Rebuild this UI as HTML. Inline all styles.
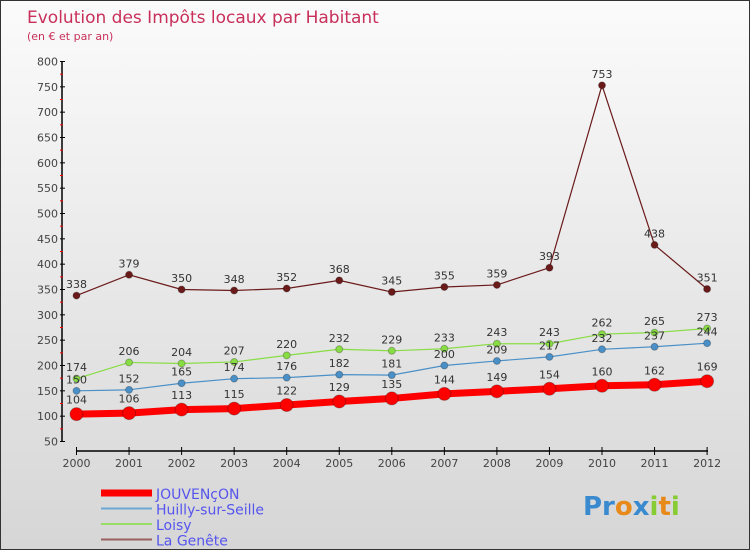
<!DOCTYPE html>
<html><head><meta charset="utf-8"><style>
body{margin:0;}
#c{width:748px;height:548px;border:1px solid #333;background:linear-gradient(#fbfbfb,#d6d6d6);position:relative;font-family:"DejaVu Sans","Liberation Sans",sans-serif;}
svg{position:absolute;left:0;top:0;}
</style></head><body>
<div id="c">
<svg id="s" width="750" height="550"></svg>
</div>
<script>
const years=["2000","2001","2002","2003","2004","2005","2006","2007","2008","2009","2010","2011","2012"];
const jouvencon=[104,106,113,115,122,129,135,144,149,154,160,162,169];
const huilly=[150,152,165,174,176,182,181,200,209,217,232,237,244];
const loisy=[174,206,204,207,220,232,229,233,243,243,262,265,273];
const genete=[338,379,350,348,352,368,345,355,359,393,753,438,351];
const yTicks=[50,100,150,200,250,300,350,400,450,500,550,600,650,700,750,800];
const NS="http://www.w3.org/2000/svg";
const s=document.getElementById('s');
const X=i=>75.5+i*52.55;
const Y=v=>440.5-(v-50)*(380/750);
function el(t,a,p){const e=document.createElementNS(NS,t);for(const k in a)e.setAttribute(k,a[k]);(p||s).appendChild(e);return e;}
let t=el('text',{x:26,y:22,fill:'#c8305a','font-size':17});t.textContent='Evolution des Impôts locaux par Habitant';

t=el('text',{x:26,y:39,fill:'#c8305a','font-size':11});t.textContent='(en € et par an)';

let a=el('line',{x1:61,y1:60,x2:61,y2:441,stroke:'#000','stroke-width':1.5});

a=el('line',{x1:75,y1:450,x2:707,y2:450,stroke:'#000','stroke-width':1.5});

yTicks.forEach((v,i)=>{el('line',{x1:59,y1:Y(v),x2:64,y2:Y(v),stroke:'#000'});
 if(i<yTicks.length-1)el('line',{x1:59,y1:Y(v+25),x2:62,y2:Y(v+25),stroke:'red'});
 const tt=el('text',{x:57,y:Y(v)+4,'text-anchor':'end','font-size':11,fill:'#444'});tt.textContent=v;
 });
years.forEach((y,i)=>{el('line',{x1:X(i),y1:446,x2:X(i),y2:454,stroke:'#000'});
 const tt=el('text',{x:X(i),y:466,'text-anchor':'middle','font-size':11,fill:'#444'});tt.textContent=y;
 });
function series(d,col,w,r,name){
 const g=el('g',{});
 el('polyline',{points:d.map((v,i)=>X(i)+','+Y(v)).join(' '),fill:'none',stroke:col,'stroke-width':w},g);
 d.forEach((v,i)=>{const c=el('circle',{cx:X(i),cy:Y(v),r:r,fill:col,stroke:'rgba(0,0,0,0.25)'},g);
  
  const l=el('text',{x:X(i),y:Y(v)-(r+4),'text-anchor':'middle','font-size':11,fill:'#333'},g);l.textContent=v;
  });
}
series(genete,'#6b1a1a',1.2,3.5,'la-genete');
series(loisy,'#88dd44',1.2,3.5,'loisy');
series(huilly,'#4a90c8',1.2,3.5,'huilly');
series(jouvencon,'#ff0000',7,6.5,'jouvencon');
const legN=['JOUVENçON','Huilly-sur-Seille','Loisy','La Genête'];
const legC=['#ff0000','#6ba8d6','#99dd66','#9a6060'];
const legW=[7,2,2,2];
legN.forEach((n,i)=>{const y=492+i*15.5;
 const ln=el('line',{x1:100,y1:y,x2:151,y2:y,stroke:legC[i],'stroke-width':legW[i]});
 
 const tt=el('text',{x:155,y:y+6,'font-size':14,fill:'#5555ee'});tt.textContent=n;
 });
const lg=el('text',{x:582,y:514,'font-size':26,'font-weight':'bold',fill:'#e88a1a'});

lg.innerHTML='<tspan fill="#3a8ad0">Pr</tspan><tspan fill="#e88a1a">o</tspan><tspan fill="#3a8ad0">x</tspan><tspan fill="#88cc33">i</tspan><tspan fill="#e88a1a">t</tspan><tspan fill="#88cc33">i</tspan>';
</script>
</body></html>
